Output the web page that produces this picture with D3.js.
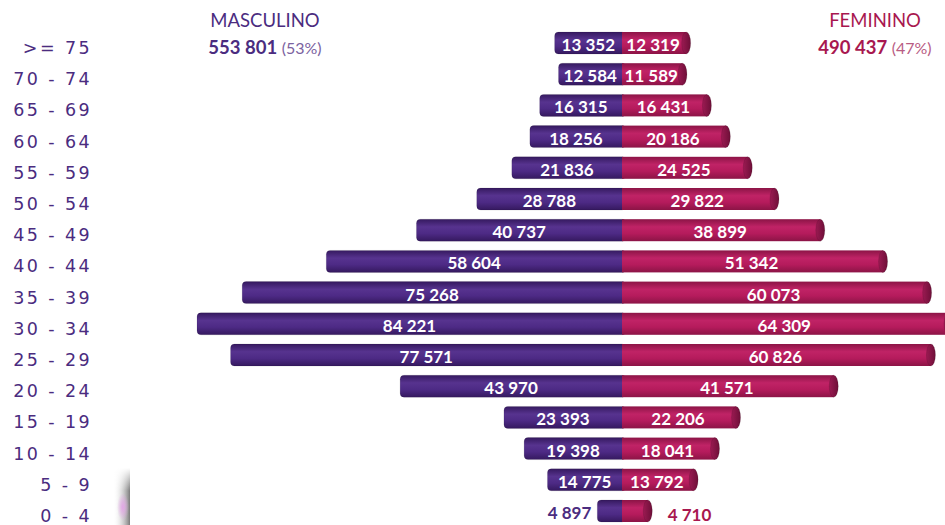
<!DOCTYPE html>
<html>
<head>
<meta charset="utf-8">
<script src="https://cdn.jsdelivr.net/npm/d3@7"></script>
<style>
  body { margin: 0; background: #fff; }
  svg { display: block; }
  .age { font-family: "DejaVu Sans", sans-serif; font-size: 17.5px; fill: #4b2c7f; letter-spacing: 2.4px; }
  .val { font-family: Lato, "Open Sans", sans-serif; font-weight: bold; font-size: 17px; fill: #fff; }
  .title { font-family: Lato, "Open Sans", sans-serif; font-size: 18.5px; }
</style>
</head>
<body>
<svg width="945" height="525"></svg>
<script>
var ages = [">= 75", "70 - 74", "65 - 69", "60 - 64", "55 - 59", "50 - 54", "45 - 49", "40 - 44",
            "35 - 39", "30 - 34", "25 - 29", "20 - 24", "15 - 19", "10 - 14", "5 - 9", "0 - 4"];
var male = [13352, 12584, 16315, 18256, 21836, 28788, 40737, 58604,
            75268, 84221, 77571, 43970, 23393, 19398, 14775, 4897];
var female = [12319, 11589, 16431, 20186, 24525, 29822, 38899, 51342,
              60073, 64309, 60826, 41571, 22206, 18041, 13792, 4710];
var totals = { male: 553801, female: 490437, malePct: "53%", femalePct: "47%" };

var data = ages.map((a, i) => ({ age: a, m: male[i], f: female[i] }));

var svg = d3.select("svg");
var cx = 622, barH = 22;
var fmt = v => d3.format(",")(v).replace(/,/g, " ");

var x = d3.scaleLinear().domain([0, 84221]).range([0, 425]);
var y = d3.scalePoint().domain(ages).range([43, 511]);

// gradients for the cylinder look
var defs = svg.append("defs");
function grad(id, dark, mid, light) {
  var g = defs.append("linearGradient").attr("id", id)
    .attr("x1", 0).attr("y1", 0).attr("x2", 0).attr("y2", 1);
  g.append("stop").attr("offset", "0%").attr("stop-color", dark);
  g.append("stop").attr("offset", "35%").attr("stop-color", light);
  g.append("stop").attr("offset", "65%").attr("stop-color", mid);
  g.append("stop").attr("offset", "100%").attr("stop-color", dark);
}
grad("gm", "#35195f", "#4d2a85", "#57338f");
grad("gf", "#8c1446", "#b51b5c", "#c02366");
var cap = defs.append("linearGradient").attr("id", "gcap")
  .attr("x1", 0).attr("y1", 0).attr("x2", 1).attr("y2", 0);
cap.append("stop").attr("offset", "0%").attr("stop-color", "#9b1a52");
cap.append("stop").attr("offset", "100%").attr("stop-color", "#6e0f38");

// stray artefact bottom-left
var art = defs.append("linearGradient").attr("id", "gart")
  .attr("x1", 0).attr("y1", 0).attr("x2", 1).attr("y2", 0);
art.append("stop").attr("offset", "0%").attr("stop-color", "#fff").attr("stop-opacity", 0);
art.append("stop").attr("offset", "100%").attr("stop-color", "#7a7a7a");
var artv = defs.append("linearGradient").attr("id", "gartv")
  .attr("x1", 0).attr("y1", 0).attr("x2", 0).attr("y2", 1);
artv.append("stop").attr("offset", "0%").attr("stop-color", "#fff").attr("stop-opacity", 1);
artv.append("stop").attr("offset", "40%").attr("stop-color", "#fff").attr("stop-opacity", 0);
var artp = defs.append("radialGradient").attr("id", "gartp");
artp.append("stop").attr("offset", "0%").attr("stop-color", "#e2a6e6");
artp.append("stop").attr("offset", "100%").attr("stop-color", "#e2a6e6").attr("stop-opacity", 0);
svg.append("rect").attr("x", 113).attr("y", 468).attr("width", 17).attr("height", 57).attr("fill", "url(#gart)");
svg.append("rect").attr("x", 113).attr("y", 468).attr("width", 17).attr("height", 57).attr("fill", "url(#gartv)");
svg.append("ellipse").attr("cx", 123).attr("cy", 507).attr("rx", 6).attr("ry", 14).attr("fill", "url(#gartp)");

// age labels
svg.selectAll(".age").data(data).enter().append("text")
  .attr("class", "age")
  .attr("x", 92).attr("y", d => y(d.age) + 11)
  .attr("text-anchor", "end")
  .text(d => d.age);

var rows = svg.selectAll(".row").data(data).enter().append("g").attr("class", "row");

// male bars (rounded left end)
rows.append("rect")
  .attr("x", d => cx - x(d.m))
  .attr("y", d => y(d.age) - barH / 2)
  .attr("width", d => x(d.m) + 4)
  .attr("height", barH)
  .attr("rx", 4)
  .attr("fill", "url(#gm)")
  .attr("stroke", "rgba(0,0,0,0.12)").attr("stroke-width", 0.8);

// female bars with end cap
rows.append("rect")
  .attr("x", cx)
  .attr("y", d => y(d.age) - barH / 2)
  .attr("width", d => x(d.f) + 2)
  .attr("height", barH)
  .attr("fill", "url(#gf)");
rows.append("ellipse")
  .attr("cx", d => cx + x(d.f) + 2)
  .attr("cy", d => y(d.age))
  .attr("rx", 4.5).attr("ry", barH / 2)
  .attr("fill", "url(#gcap)")
  .attr("stroke", "rgba(0,0,0,0.15)").attr("stroke-width", 0.8);

// value labels
var minW = 40;
rows.append("text")
  .attr("class", "val")
  .attr("x", d => x(d.m) < minW ? cx - x(d.m) - 6 : cx - x(d.m) / 2)
  .attr("y", d => y(d.age) + 8)
  .attr("text-anchor", d => x(d.m) < minW ? "end" : "middle")
  .style("fill", d => x(d.m) < minW ? "#4b2c7f" : "#fff")
  .text(d => fmt(d.m));
rows.append("text")
  .attr("class", "val")
  .attr("x", d => x(d.f) < minW ? cx + x(d.f) + 22 : cx + x(d.f) / 2)
  .attr("y", d => y(d.age) + (x(d.f) < minW ? 10 : 8))
  .attr("text-anchor", d => x(d.f) < minW ? "start" : "middle")
  .style("fill", d => x(d.f) < minW ? "#a8174f" : "#fff")
  .text(d => fmt(d.f));

// titles
function title(xc, name, total, pct, c1, c2) {
  svg.append("text").attr("class", "title")
    .attr("x", xc).attr("y", 27).attr("text-anchor", "middle")
    .style("fill", c1).text(name);
  var t = svg.append("text").attr("class", "title")
    .attr("x", xc).attr("y", 54).attr("text-anchor", "middle");
  t.append("tspan").style("font-weight", "bold").style("fill", c1).text(fmt(total) + " ");
  t.append("tspan").style("font-size", "16px").style("fill", c2).text("(" + pct + ")");
}
title(265, "MASCULINO", totals.male, totals.malePct, "#4b2c7f", "#7b62a0");
title(875, "FEMININO", totals.female, totals.femalePct, "#a8174f", "#b85c83");
</script>
</body>
</html>
